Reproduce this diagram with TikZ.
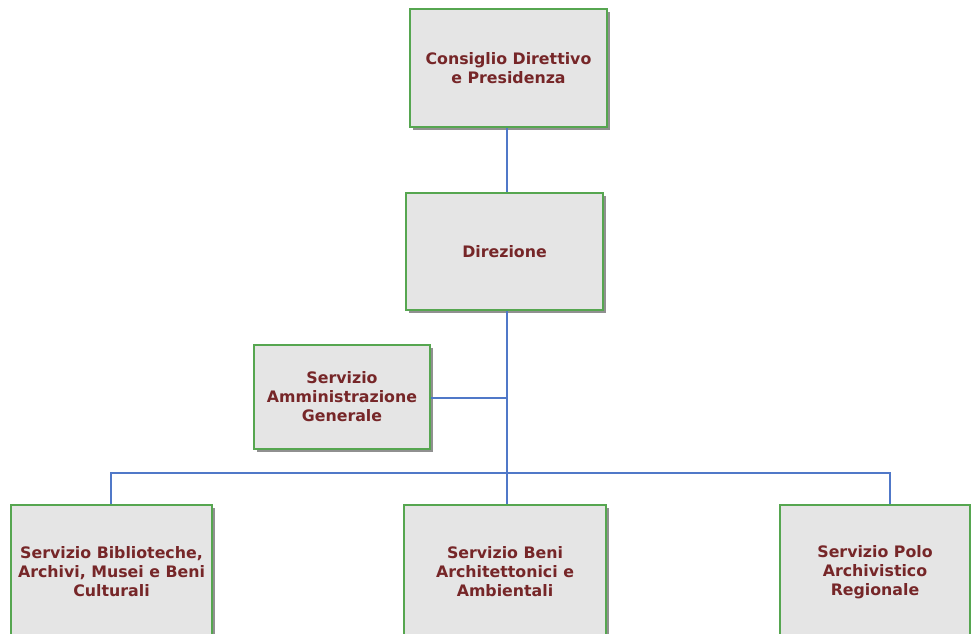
\documentclass[tikz,border=0pt]{standalone}
\usepackage{fontspec}
\setmainfont{DejaVu Sans}
\usetikzlibrary{shadows}
\definecolor{boxfill}{RGB}{229,229,229}
\definecolor{boxedge}{RGB}{86,166,80}
\definecolor{boxshadow}{RGB}{70,70,70}
\definecolor{txt}{RGB}{118,38,40}
\definecolor{lineblue}{RGB}{80,120,200}
\tikzset{
  orgbox/.style={draw=boxedge, line width=1.6pt, fill=boxfill, rectangle, inner sep=0pt,
    align=center, text=txt, font=\fontsize{15.8}{19}\selectfont\bfseries,
    drop shadow={shadow xshift=2.5pt, shadow yshift=-2.5pt, fill=boxshadow, opacity=0.6}},
  conn/.style={draw=lineblue, line width=2pt}
}
\begin{document}
\begin{tikzpicture}[x=1pt,y=-1pt]
\useasboundingbox (0,0) rectangle (971,633);
\begin{scope}
\clip (0,0) rectangle (971,633);
\coordinate (bus) at (507,473);
\coordinate (busL) at (111,473);
\coordinate (busR) at (890,473);
\coordinate (adm) at (507,398);
\node[orgbox, minimum width=197pt, minimum height=118pt] (cons) at (508.5,68) {Consiglio Direttivo\\e Presidenza};
\node[orgbox, minimum width=197pt, minimum height=117pt] (dir) at (504.5,251.5) {Direzione};
\node[orgbox, minimum width=176pt, minimum height=104pt] (amm) at (342,397) {Servizio\\Amministrazione\\Generale};
\node[orgbox, minimum width=201pt, minimum height=134pt] (bib) at (111.5,572) {Servizio Biblioteche,\\Archivi, Musei e Beni\\Culturali};
\node[orgbox, minimum width=202pt, minimum height=134pt] (ben) at (505,572) {Servizio Beni\\Architettonici e\\Ambientali};
\node[orgbox, minimum width=190pt, minimum height=134pt] (polo) at (875,572) {Servizio Polo\\Archivistico\\Regionale};
\draw[conn] (cons.south -| bus) -- (dir.north -| bus);
\draw[conn] (dir.south -| bus) -- (ben.north -| bus);
\draw[conn] (amm.east |- adm) -- (adm);
\draw[conn] (busL |- bib.north) -- (busL) -- (busR) -- (busR |- polo.north);
\end{scope}
\end{tikzpicture}
\end{document}
